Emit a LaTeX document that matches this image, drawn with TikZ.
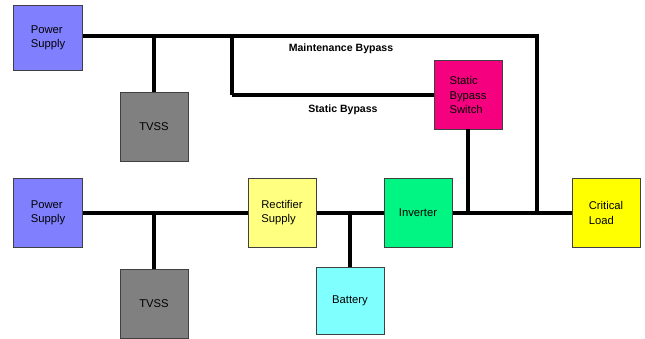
\documentclass[tikz,border=0pt]{standalone}
\usepackage{fontspec}
\setmainfont{Liberation Sans}
\usepackage{tikz}
\usetikzlibrary{positioning, calc}
\definecolor{upsPower}{HTML}{8080FF}
\definecolor{upsTvss}{HTML}{808080}
\definecolor{upsSwitch}{HTML}{F5007F}
\definecolor{upsRect}{HTML}{FFFF80}
\definecolor{upsInv}{HTML}{00F582}
\definecolor{upsBatt}{HTML}{80FFFF}
\definecolor{upsLoad}{HTML}{FFFF00}
\definecolor{upsEdge}{HTML}{404040}

\begin{document}
\begin{tikzpicture}[x=0.025cm, y=-0.025cm,
      unit/.style={draw=upsEdge, line width=0.7pt, minimum width=1.7cm,
                   minimum height=1.7cm, align=left, inner sep=1pt,
                   font=\fontsize{8}{10}\selectfont},
      bus/.style={line width=2.6pt},
      tag/.style={font=\fontsize{7.5}{9}\selectfont\bfseries}]
    \useasboundingbox (0,0) rectangle (645,339);
    % top row
    \node[unit, fill=upsPower, minimum height=1.62cm] (ps1) at (48,38) {Power\\Supply};
    \node[unit, fill=upsTvss] (tvss1) at (154,127) {TVSS};
    \node[unit, fill=upsSwitch] (sbs) at (468,95) {Static\\Bypass\\Switch};
    % bottom row
    \node[unit, fill=upsPower] (ps2) at (48,213) {Power\\Supply};
    \node[unit, fill=upsTvss] (tvss2) at (154,304) {TVSS};
    \node[unit, fill=upsRect] (rect) at (282,213) {Rectifier\\Supply};
    \node[unit, fill=upsInv] (inv) at (418,213) {Inverter};
    \node[unit, fill=upsBatt, minimum height=1.65cm] (bat) at (350,301) {Battery};
    \node[unit, fill=upsLoad] (load) at (606,213) {Critical\\Load};
    \coordinate (mb) at (537,36);
    \coordinate (sb) at (232,36);
    % maintenance bypass
    \draw[bus] (ps1.east |- mb) -- (mb) -- (mb |- load.west);
    \draw[bus] (tvss1.north) -- (tvss1.north |- mb);
    \draw[bus] (sb) -- (sb |- sbs.west);
    \draw[bus, line width=3.4pt] (sb |- sbs.west) -- (sbs.west);
    \draw[bus] (sbs.south) -- (sbs.south |- inv.east);
    % main path
    \draw[bus] (ps2.east) -- (rect.west);
    \draw[bus] (tvss2.north) -- (tvss2.north |- ps2.east);
    \draw[bus] (rect.east) -- (inv.west);
    \draw[bus] (bat.north) -- (bat.north |- inv.west);
    \draw[bus] (inv.east) -- (load.west);
    \node[tag] (mbl) at (341,49) {Maintenance Bypass};
    \node[tag] (sbl) at (343,110) {Static Bypass};
\end{tikzpicture}
\end{document}
